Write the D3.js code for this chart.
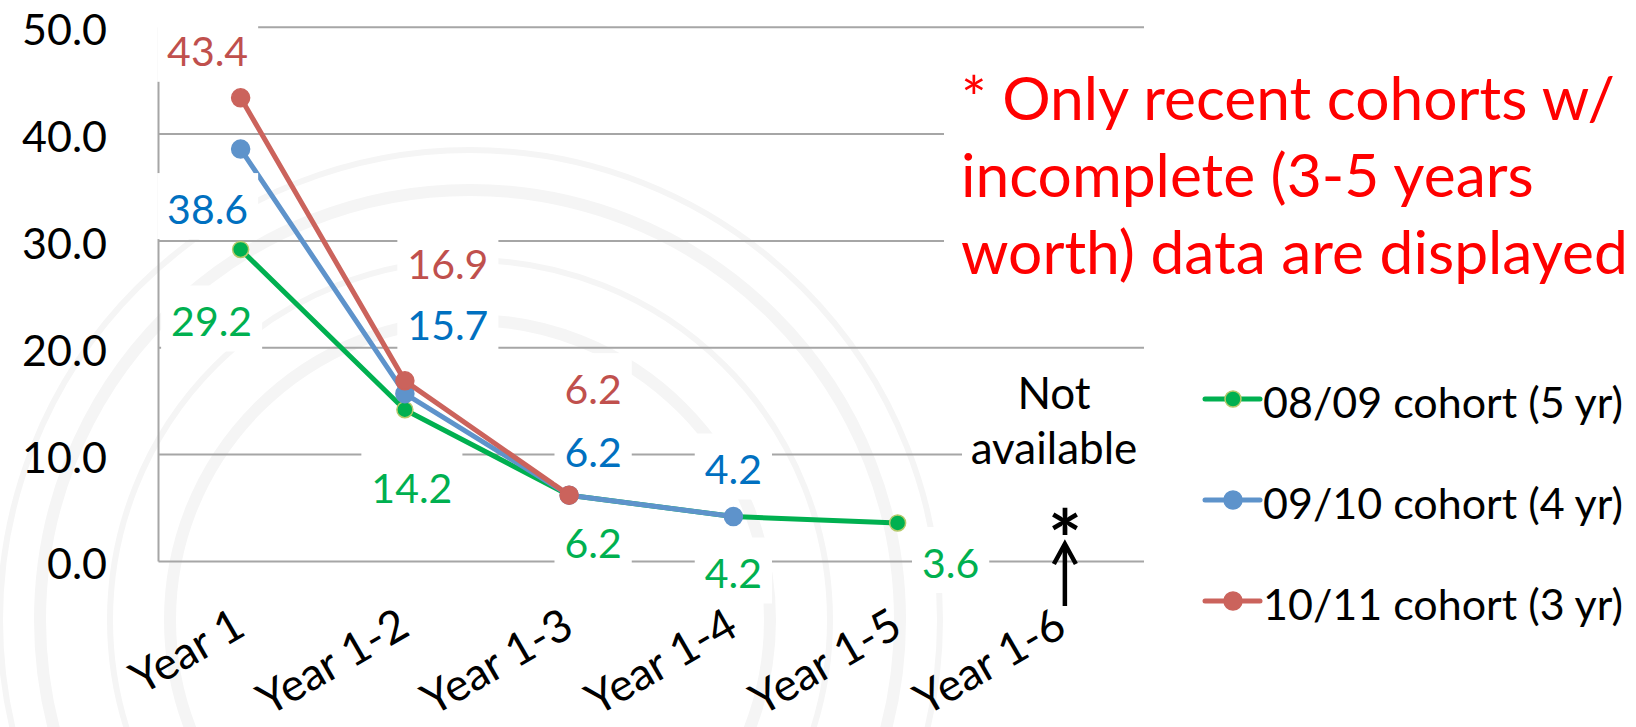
<!DOCTYPE html>
<html>
<head>
<meta charset="utf-8">
<script src="https://cdn.jsdelivr.net/npm/d3@7"></script>
<style>
  body { margin: 0; background: #fff; }
  text { font-family: Lato, "Open Sans", sans-serif; }
</style>
</head>
<body>
<div id="chart"></div>
<script>
// data
var categories = ["Year 1", "Year 1-2", "Year 1-3", "Year 1-4", "Year 1-5", "Year 1-6"];
var yTicks = [0, 10, 20, 30, 40, 50];
var cohort0809 = [29.2, 14.2, 6.2, 4.2, 3.6];
var cohort0910 = [38.6, 15.7, 6.2, 4.2];
var cohort1011 = [43.4, 16.9, 6.2];
var seriesNames = ["08/09 cohort (5 yr)", "09/10 cohort (4 yr)", "10/11 cohort (3 yr)"];
var noteLines = ["* Only recent cohorts w/", "incomplete (3-5 years", "worth) data are displayed"];

// where each data label sits relative to its point [dx, dy]
var offs0809 = [[-29, 72], [7, 79], [24, 48], [0, 57], [53, 40]];
var offs0910 = [[-33, 60], [43, -68], [24, -43], [0, -47]];
var offs1011 = [[-33, -46], [43, -117], [24, -106]];

var W = 1636, H = 727;
var plot = {left: 158.5, right: 1144, top: 27.3, bottom: 561.4};

var svg = d3.select("#chart").append("svg")
    .attr("width", W)
    .attr("height", H);

svg.append("rect").attr("width", W).attr("height", H).attr("fill", "#fff");

// faint seal watermark in the background
var wm = svg.append("g").attr("fill", "none").attr("stroke", "#f5f5f5");
[300, 360, 430, 470].forEach(function(r, i) {
  wm.append("circle").attr("cx", 470).attr("cy", 620).attr("r", r)
    .attr("stroke-width", i % 2 ? 6 : 12);
});

var x = d3.scaleBand()
  .domain(categories)
  .range([plot.left, plot.right]);
var cx = function(i) { return x(categories[i]) + x.bandwidth() / 2; };

var y = d3.scaleLinear()
  .domain([0, 50])
  .range([plot.bottom, plot.top]);

// gridlines
svg.append("g")
  .selectAll("line")
  .data(yTicks)
  .enter()
  .append("line")
    .attr("x1", plot.left)
    .attr("x2", plot.right)
    .attr("y1", function(d) { return y(d); })
    .attr("y2", function(d) { return y(d); })
    .attr("stroke", "#a6a6a6")
    .attr("stroke-width", 2);

svg.append("line")
  .attr("x1", plot.left).attr("x2", plot.left)
  .attr("y1", plot.top).attr("y2", plot.bottom)
  .attr("stroke", "#a6a6a6").attr("stroke-width", 2);

// y axis labels
svg.append("g")
  .selectAll("text")
  .data(yTicks)
  .enter()
  .append("text")
    .attr("x", 107)
    .attr("y", function(d) { return y(d) + 18; })
    .attr("text-anchor", "end")
    .style("font-size", "43px")
    .attr("fill", "#000")
    .text(function(d) { return d3.format(".1f")(d); });

// x axis labels, rotated
svg.append("g")
  .selectAll("text")
  .data(categories)
  .enter()
  .append("text")
    .attr("transform", function(d, i) { return "translate(" + (cx(i) + 7) + ",634)rotate(-30)"; })
    .attr("text-anchor", "end")
    .style("font-size", "45px")
    .attr("fill", "#000")
    .text(function(d) { return d; });

var series = [
  {name: seriesNames[0], values: cohort0809, offs: offs0809, line: "#00B050", marker: "#00B050", outline: "#b5c96a", label: "#00B050", r: 8},
  {name: seriesNames[1], values: cohort0910, offs: offs0910, line: "#5E93CB", marker: "#5E93CB", outline: "#5E93CB", label: "#0070C0", r: 9},
  {name: seriesNames[2], values: cohort1011, offs: offs1011, line: "#CB635C", marker: "#CB635C", outline: "#CB635C", label: "#C0504D", r: 9}
];

var line = d3.line()
  .x(function(d, i) { return cx(i); })
  .y(function(d) { return y(d); });

series.forEach(function(s) {
  var g = svg.append("g");
  g.append("path")
    .datum(s.values)
    .attr("d", line)
    .attr("fill", "none")
    .attr("stroke", s.line)
    .attr("stroke-width", 5)
    .attr("stroke-linejoin", "round");
  g.selectAll("circle")
    .data(s.values)
    .enter()
    .append("circle")
      .attr("cx", function(d, i) { return cx(i); })
      .attr("cy", function(d) { return y(d); })
      .attr("r", s.r)
      .attr("fill", s.marker)
      .attr("stroke", s.outline)
      .attr("stroke-width", 1.5);
});

// data labels with white boxes
var fmt = d3.format(".1f");
series.forEach(function(s) {
  s.values.forEach(function(v, i) {
    var px = cx(i) + s.offs[i][0], py = y(v) + s.offs[i][1];
    var g = svg.append("g");
    var box = g.append("rect").attr("fill", "#fff");
    var t = g.append("text")
      .attr("x", px)
      .attr("y", py + 0.358 * 41)
      .attr("text-anchor", "middle")
      .style("font-size", "41px")
      .attr("fill", s.label)
      .text(fmt(v));
    var bb = t.node().getBBox();
    box.attr("x", bb.x - 10).attr("y", py - 36)
      .attr("width", bb.width + 20).attr("height", 66);
  });
});

// "Not available" note
var na = svg.append("g");
na.append("rect").attr("x", 962).attr("y", 366).attr("width", 186).attr("height", 112).attr("fill", "#fff");
na.append("text").attr("x", 1054).attr("y", 409).attr("text-anchor", "middle")
  .style("font-size", "44px").text("Not");
na.append("text").attr("x", 1054).attr("y", 464).attr("text-anchor", "middle")
  .style("font-size", "44px").text("available");

// asterisk and arrow at Year 1-6
var ax = cx(5) + 3;
svg.append("text").attr("x", ax).attr("y", 569).attr("text-anchor", "middle")
  .style("font-size", "80px").style("font-weight", "bold").text("*");
svg.append("line").attr("x1", ax).attr("x2", ax).attr("y1", 606).attr("y2", 546)
  .attr("stroke", "#000").attr("stroke-width", 4.5);
svg.append("path")
  .attr("d", "M" + (ax - 11) + ",564L" + ax + ",544L" + (ax + 11) + ",564")
  .attr("fill", "none").attr("stroke", "#000").attr("stroke-width", 4.5)
  .attr("stroke-linejoin", "miter");

// red note
var note = svg.append("g");
note.append("rect").attr("x", 944).attr("y", 60).attr("width", 692).attr("height", 240).attr("fill", "#fff");
note.selectAll("text")
  .data(noteLines)
  .enter()
  .append("text")
    .attr("x", 961)
    .attr("y", function(d, i) { return 120 + i * 77; })
    .style("font-size", "60.5px")
    .attr("fill", "#FF0000")
    .text(function(d) { return d; });

// legend
var legend = svg.append("g");
series.forEach(function(s, i) {
  var ly = 399 + i * 101;
  legend.append("line").attr("x1", 1205).attr("x2", 1260).attr("y1", ly).attr("y2", ly)
    .attr("stroke", s.line).attr("stroke-width", 5).attr("stroke-linecap", "round");
  legend.append("circle").attr("cx", 1233).attr("cy", ly).attr("r", s.r)
    .attr("fill", s.marker).attr("stroke", s.outline).attr("stroke-width", 1.5);
  legend.append("text").attr("x", 1263).attr("y", ly + 19)
    .style("font-size", "43px").attr("fill", "#000").text(s.name);
});
</script>
</body>
</html>
